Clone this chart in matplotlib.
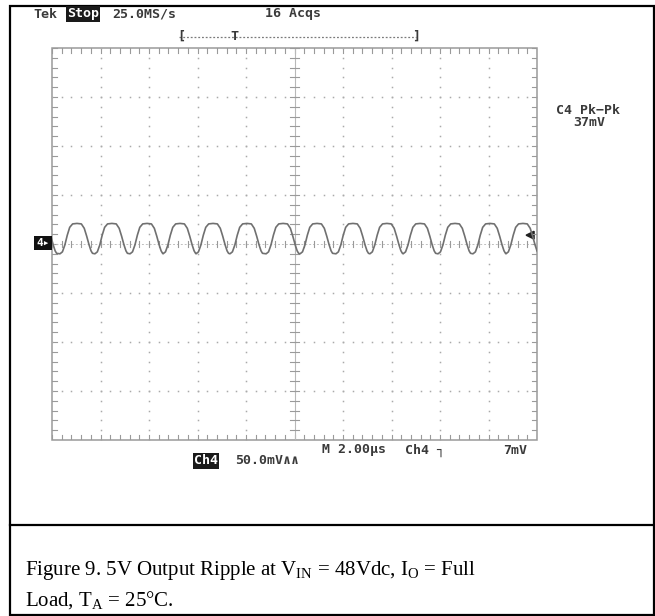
import numpy as np
import matplotlib.pyplot as plt
from matplotlib.patches import Rectangle, Polygon

# Oscilloscope settings
time_per_div = 2.0      # us
volts_per_div = 50.0    # mV
n_xdiv, n_ydiv = 10, 8

# Peak times of the ripple (us from left edge of screen)
peak_times = [-0.45, 1.03, 2.47, 3.92, 5.28, 6.64, 8.04, 9.53, 10.93,
              12.41, 13.81, 15.18, 16.62, 18.06, 19.42]
# One ripple cycle around a peak: time offset (us) and level (mV)
cycle_offsets = [-0.70, -0.60, -0.50, -0.40, -0.30, -0.18, 0.0,
                 0.18, 0.30, 0.40, 0.50, 0.58, 0.64]
cycle_mv = [-10, -8, -1, 9, 17, 20.5, 21, 20.5, 16, 8, -1, -7, -9.5]

header_left = "Tek"
header_state = "Stop"
header_rate = "25.0MS/s"
header_acqs = "16 Acqs"
meas_label = "C4 Pk\u2212Pk"
meas_value = "37mV"
ch_label = "Ch4"
ch_scale = "50.0mV\u2227\u2227"
timebase = "M 2.00\u00b5s"
trig_src = "Ch4 \u2510"
trig_level = "7mV"
caption1 = r"Figure 9. 5V Output Ripple at V$_{\mathrm{IN}}$ = 48Vdc, I$_{\mathrm{O}}$ = Full"
caption2 = r"Load, T$_{\mathrm{A}}$ = 25°C."

plt.rcParams['mathtext.fontset'] = 'custom'
plt.rcParams['mathtext.rm'] = 'Liberation Serif'

W, H = 655, 616
fig = plt.figure(figsize=(W / 100, H / 100), dpi=100)


def fx(x):
    return x / W


def fy(y):
    return 1 - y / H


# screen area in pixels
sx0, sx1, sy0, sy1 = 52, 537, 48, 440
ax = fig.add_axes([fx(sx0), fy(sy1), fx(sx1) - fx(sx0), fy(sy0) - fy(sy1)])
xmax = n_xdiv * time_per_div
ymax = n_ydiv / 2 * volts_per_div
ax.set_xlim(0, xmax)
ax.set_ylim(-ymax, ymax)
ax.axis('off')

gcol = '#9a9a9a'
# border
ax.add_patch(Rectangle((0, -ymax), xmax, 2 * ymax, fill=False, ec=gcol,
                       lw=1.1, clip_on=False))
minor_x = np.arange(0, xmax + 1e-9, time_per_div / 5)
minor_y = np.arange(-ymax, ymax + 1e-9, volts_per_div / 5)
major_x = np.arange(0, xmax + 1e-9, time_per_div)
major_y = np.arange(-ymax, ymax + 1e-9, volts_per_div)
tx = 0.012 * xmax
ty = 0.012 * 2 * ymax

# ticks along border
for x in minor_x:
    ax.plot([x, x], [ymax, ymax - ty], color=gcol, lw=0.8)
    ax.plot([x, x], [-ymax, -ymax + ty], color=gcol, lw=0.8)
for y in minor_y:
    ax.plot([0, tx * 0.8], [y, y], color=gcol, lw=0.8)
    ax.plot([xmax, xmax - tx * 0.8], [y, y], color=gcol, lw=0.8)

# dotted grid at major divisions
for x in major_x[1:-1]:
    if np.isclose(x, xmax / 2):
        continue
    ax.plot(np.full(minor_y.size, x), minor_y, ls='none', marker='s', ms=1.1,
            color='#aaaaaa', mew=0)
for y in major_y[1:-1]:
    if np.isclose(y, 0):
        continue
    ax.plot(minor_x, np.full(minor_x.size, y), ls='none', marker='s', ms=1.1,
            color='#aaaaaa', mew=0)

# centre cross with tick marks
ax.plot([xmax / 2, xmax / 2], [-ymax, ymax], color='#b8b8b8', lw=0.8)
ax.plot([0, xmax], [0, 0], color='#c0c0c0', lw=0.7, ls=(0, (2, 2)))
for y in minor_y:
    ax.plot([xmax / 2 - tx * 0.7, xmax / 2 + tx * 0.7], [y, y], color=gcol, lw=0.8)
for x in minor_x:
    ax.plot([x, x], [-ty * 0.7, ty * 0.7], color=gcol, lw=0.8)

# ripple trace
t = []
v = []
for p in peak_times:
    t.extend([p + o for o in cycle_offsets])
    v.extend(cycle_mv)
ax.plot(np.array(t), np.array(v), color='#707070', lw=1.2, solid_joinstyle='round')

# trigger level marker on the right
ax.add_patch(Polygon([[xmax - 0.45, 9], [xmax - 0.12, 13], [xmax - 0.12, 5]],
                     closed=True, color='#222222'))

# scope texts
mono = dict(family='DejaVu Sans Mono', fontsize=9.5, color='#3a3a3a',
            fontweight='bold', va='center')
inv = dict(family='DejaVu Sans Mono', fontsize=9.5, color='white',
           fontweight='bold', va='center',
           bbox=dict(boxstyle='square,pad=0.1', fc='#1a1a1a', ec='none'))
fig.text(fx(33), fy(14), header_left, **mono)
fig.text(fx(67), fy(14), header_state, **inv)
fig.text(fx(112), fy(14), header_rate, **mono)
fig.text(fx(265), fy(14), header_acqs, **mono)

# trigger position bracket
fig.add_artist(plt.Line2D([fx(179), fx(416)], [fy(37), fy(37)], color='#7a7a7a',
                          lw=0.9, ls=(0, (1.5, 1.5))))
fig.text(fx(177), fy(36), "[", **mono)
fig.text(fx(412), fy(36), "]", **mono)
fig.text(fx(230), fy(36), "T", **mono)

fig.text(fx(556), fy(110), meas_label, **mono)
fig.text(fx(573), fy(122), meas_value, **mono)

fig.text(fx(322), fy(450), timebase, **mono)
fig.text(fx(405), fy(450), trig_src, **mono)
fig.text(fx(503), fy(450), trig_level, **mono)
fig.text(fx(194), fy(461), ch_label, **inv)
fig.text(fx(235), fy(461), ch_scale, **mono)

# channel ground marker
fig.text(fx(36), fy(243), "4\u25b8", color='white', family='DejaVu Sans Mono',
         fontsize=8, fontweight='bold', va='center',
         bbox=dict(boxstyle='square,pad=0.2', fc='#111111', ec='none'))

# outer frame and caption box
fig.add_artist(Rectangle((fx(10), fy(615)), fx(654) - fx(10), fy(6) - fy(615),
                         fill=False, ec='black', lw=1.6, transform=fig.transFigure))
fig.add_artist(plt.Line2D([fx(10), fx(654)], [fy(525), fy(525)], color='black', lw=1.6))

serif = dict(family='Liberation Serif', fontsize=15, color='black', va='baseline')
fig.text(fx(25), fy(575), caption1, **serif)
fig.text(fx(25), fy(606), caption2, **serif)

fig.savefig('out.png', dpi=100)
